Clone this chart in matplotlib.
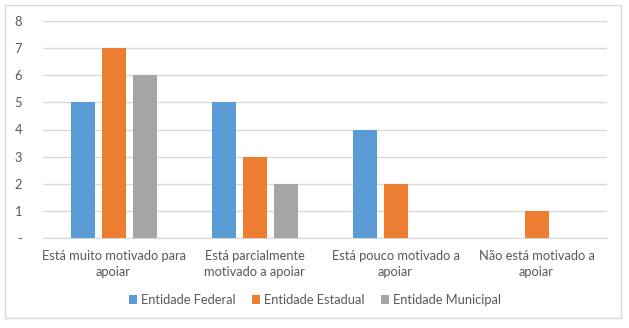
import numpy as np
import matplotlib.pyplot as plt
from matplotlib.patches import Rectangle

# data
categories = ["Está muito motivado para\napoiar", "Está parcialmente\nmotivado a apoiar",
              "Está pouco motivado a\napoiar", "Não está motivado a\napoiar"]
federal = [5, 5, 4, 0]
estadual = [7, 3, 2, 1]
municipal = [6, 2, 0, 0]
series_names = ["Entidade Federal", "Entidade Estadual", "Entidade Municipal"]
ytick_labels = ["-", "1", "2", "3", "4", "5", "6", "7", "8"]

colors = ["#5B9BD5", "#ED7D31", "#A5A5A5"]
plt.rcParams["font.family"] = ["Lato", "DejaVu Sans"]
txt_color = "#595959"

fig = plt.figure(figsize=(6.29, 3.28), dpi=100)
# outer chart border
fig.patches.append(Rectangle((5 / 629, 1 - 318 / 328), 616 / 629, 313 / 328, transform=fig.transFigure,
                             fill=False, edgecolor="#D9D9D9", linewidth=1))
ax = fig.add_axes([43 / 629, 1 - 238 / 328, 564 / 629, 217 / 328])

x = np.arange(len(categories))
w = 24 / 141
step = 31 / 141
for k, vals in enumerate([federal, estadual, municipal]):
    ax.bar(x + (k - 1) * step, vals, width=w, color=colors[k], label=series_names[k], zorder=3)

ax.set_xlim(-0.5, len(categories) - 0.5)
ax.set_ylim(0, 8)
ax.set_yticks(range(9))
ax.set_yticklabels(ytick_labels)
ax.set_xticks(x)
ax.set_xticklabels(categories, linespacing=1.3, multialignment="center")
ax.yaxis.grid(True, color="#D9D9D9", linewidth=1, zorder=0)
for s in ["top", "right", "left"]:
    ax.spines[s].set_visible(False)
ax.spines["bottom"].set_color("#D9D9D9")
ax.tick_params(axis="both", length=0, labelsize=9.3, labelcolor=txt_color)
ax.tick_params(axis="y", pad=15)
ax.tick_params(axis="x", pad=9)

leg = fig.legend(loc="center", bbox_to_anchor=(315 / 629, 1 - 300 / 328), ncol=3, frameon=False,
                 handlelength=0.6, handleheight=0.6, handletextpad=0.3, columnspacing=1.3,
                 fontsize=9.3)
for t in leg.get_texts():
    t.set_color(txt_color)

fig.savefig("out.png", dpi=100)
